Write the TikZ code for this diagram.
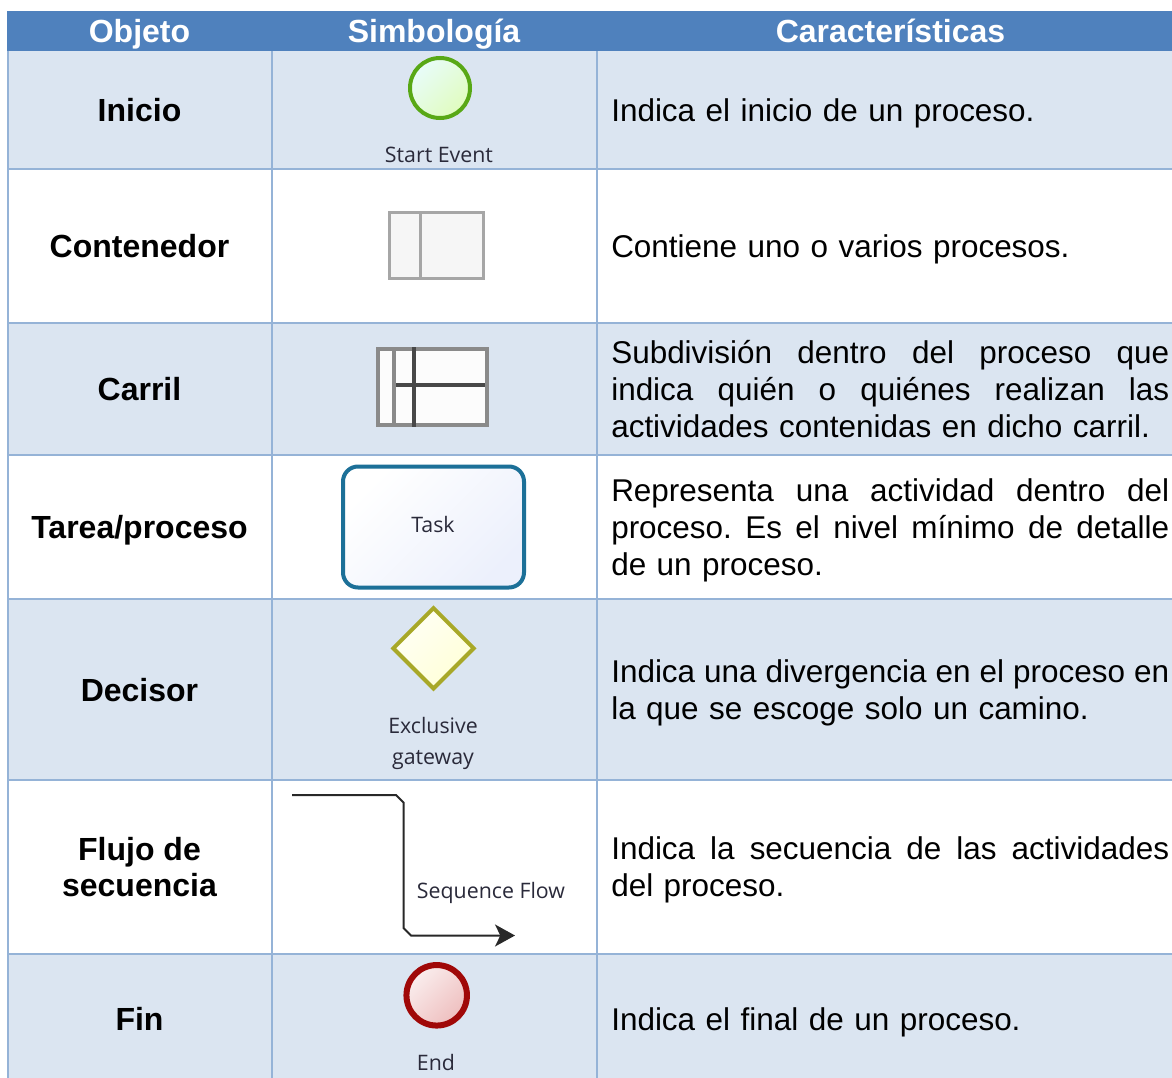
\documentclass[tikz,border=0pt]{standalone}
\usepackage{fontspec}
\setmainfont{Liberation Sans}
\newfontfamily\uifont{Open Sans}
\usetikzlibrary{arrows.meta,shapes.geometric,shadings}
\definecolor{headblue}{HTML}{4F81BD}
\definecolor{rowblue}{HTML}{DBE5F1}
\definecolor{gridblue}{HTML}{95B3D7}
\definecolor{uitext}{HTML}{2A2A3A}
\definecolor{startline}{RGB}{88,168,22}
\definecolor{startA}{RGB}{232,252,250}
\definecolor{startB}{RGB}{224,252,190}
\definecolor{poolline}{RGB}{166,166,166}
\definecolor{poolfill}{RGB}{246,246,246}
\definecolor{laneline}{RGB}{138,138,138}
\definecolor{lanedark}{RGB}{72,72,72}
\definecolor{lanefill}{RGB}{252,252,252}
\definecolor{taskline}{RGB}{28,112,152}
\definecolor{taskB}{RGB}{236,240,252}
\definecolor{gateline}{RGB}{168,168,40}
\definecolor{gateA}{RGB}{255,255,245}
\definecolor{gateB}{RGB}{255,255,215}
\definecolor{flowline}{RGB}{40,40,40}
\definecolor{endline}{RGB}{160,8,8}
\definecolor{endA}{RGB}{250,238,238}
\definecolor{endB}{RGB}{238,190,190}
\newlength{\pxu}\setlength{\pxu}{0.75pt}
\newcommand{\fitline}[1]{{\spaceskip=0pt\xspaceskip=0pt\makebox[558\pxu][s]{#1}}\\}
\tikzset{
  x=0.75pt,y=-0.75pt,
  band/.style={fill=rowblue,draw=none},
  head/.style={font=\fontsize{24}{27}\selectfont\bfseries,text=white,inner sep=0pt,anchor=center},
  obj/.style={font=\fontsize{24}{27}\selectfont\bfseries,align=center,inner sep=0pt,anchor=center},
  desc/.style={font=\fontsize{23.6}{27.75}\selectfont\frenchspacing,align=left,inner sep=0pt,anchor=west,text width=558\pxu},
  grid/.style={draw=gridblue,line width=2\pxu},
  ui/.style={font=\uifont\fontsize{16}{23.25}\selectfont,text=uitext,inner sep=0pt,anchor=center,align=center},
}
\begin{document}
\begin{tikzpicture}
\useasboundingbox (0,0) rectangle (1172,1078);
\fill[white] (0,0) rectangle (1172,1078);
% bands
\fill[band] (7,51) rectangle (1172,168.5);
\fill[band] (7,323) rectangle (1172,455);
\fill[band] (7,599) rectangle (1172,780);
\fill[band] (7,953.5) rectangle (1172,1078);
% grid
\foreach \yy in {168.5,323,455,599,780,953.5} \draw[grid] (7,\yy) -- (1172,\yy);
\foreach \xx in {8,272,597} \draw[grid] (\xx,51) -- (\xx,1078);
\fill[headblue] (7,11) rectangle (1172,51);
% header
\node[head] (h1) at (139.5,34) {Objeto};
\node[head] (h2) at (434,34) {Simbología};
\node[head] (h3) at (890.5,31) {Características};
% objects
\node[obj] (o1) at (139.5,110) {Inicio};
\node[obj] (o2) at (139.5,246) {Contenedor};
\node[obj] (o3) at (139.5,389) {Carril};
\node[obj] (o4) at (139.5,530) {Tarea/proceso};
\node[obj] (o5) at (139.5,690) {Decisor};
\node[obj] (o6) at (139.5,867) {Flujo de\\secuencia};
\node[obj] (o7) at (139.5,1019) {Fin};
% descriptions
\node[desc] (d1) at (611,113) {Indica el inicio de un proceso.};
\node[desc] (d2) at (611,249) {Contiene uno o varios procesos.};
\node[desc] (d3) at (611,389) {\fitline{Subdivisión dentro del proceso que}\fitline{indica quién o quiénes realizan las}actividades contenidas en dicho carril.};
\node[desc] (d4) at (611,530) {\fitline{Representa una actividad dentro del}\fitline{proceso. Es el nivel mínimo de detalle}de un proceso.};
\node[desc] (d5) at (611,693) {\fitline{Indica una divergencia en el proceso en}la que se escoge solo un camino.};
\node[desc] (d6) at (611,870) {\fitline{Indica la secuencia de las actividades}del proceso.};
\node[desc] (d7) at (611,1022) {Indica el final de un proceso.};
% start event
\node[circle,minimum size=60\pxu,inner sep=0pt,draw=startline,line width=4\pxu,
  shading=axis,left color=startA,right color=startB,shading angle=45] (s1) at (440,88) {};
\node[ui] (l1) at (439,155) {Start Event};
% pool
\node[rectangle,minimum width=94\pxu,minimum height=66\pxu,inner sep=0pt,draw=poolline,fill=poolfill,line width=3\pxu] (pool) at (436.5,245.5) {};
\coordinate (p1) at (420.7,212.5);
\coordinate (p2) at (420.7,278.5);
\draw[draw=poolline,line width=3\pxu] (p1) -- (p2);
% lane
\node[rectangle,minimum width=109\pxu,minimum height=76\pxu,inner sep=0pt,draw=laneline,fill=lanefill,line width=3.8\pxu] (lane) at (432.5,387) {};
\coordinate (q1) at (394,349);
\coordinate (q2) at (394,425);
\coordinate (q3) at (414,347);
\coordinate (q4) at (414,427);
\coordinate (q5) at (396,385);
\coordinate (q6) at (485,385);
\draw[draw=laneline,line width=3.8\pxu] (q1) -- (q2);
\draw[draw=lanedark,line width=4\pxu] (q5) -- (q6);
\draw[draw=lanedark,line width=4\pxu] (q3) -- (q4);
% task
\node[rectangle,rounded corners=15\pxu,minimum width=181\pxu,minimum height=121\pxu,inner sep=0pt,draw=taskline,line width=4\pxu,
  shading=axis,left color=white,right color=taskB,shading angle=45] (task) at (433.5,527) {};
\node[ui] (l2) at (433,524) {Task};
% gateway
\node[diamond,aspect=1,minimum width=82\pxu,minimum height=82\pxu,inner sep=0pt,draw=gateline,line width=4\pxu,
  shading=axis,left color=gateA,right color=gateB,shading angle=45] (gw) at (433.5,648.3) {};
\node[ui] (l3) at (433,743) {Exclusive\\gateway};
% sequence flow
\coordinate (f1) at (292,795);
\coordinate (f2) at (396,795);
\coordinate (f3) at (403.5,802.5);
\coordinate (f4) at (403.5,928);
\coordinate (f5) at (411,935.5);
\coordinate (f6) at (515,935.5);
\draw[draw=flowline,line width=2\pxu,-{Stealth[length=15pt,width=16.5pt,inset=4pt]}] (f1) -- (f2) -- (f3) -- (f4) -- (f5) -- (f6);
\node[ui] (l4) at (491,893) {Sequence Flow};
% end event
\node[circle,minimum size=60.5\pxu,inner sep=0pt,draw=endline,line width=6\pxu,
  shading=axis,left color=endA,right color=endB,shading angle=45] (e1) at (436.7,995.3) {};
\node[ui] (l5) at (436,1062) {End};
\end{tikzpicture}
\end{document}
